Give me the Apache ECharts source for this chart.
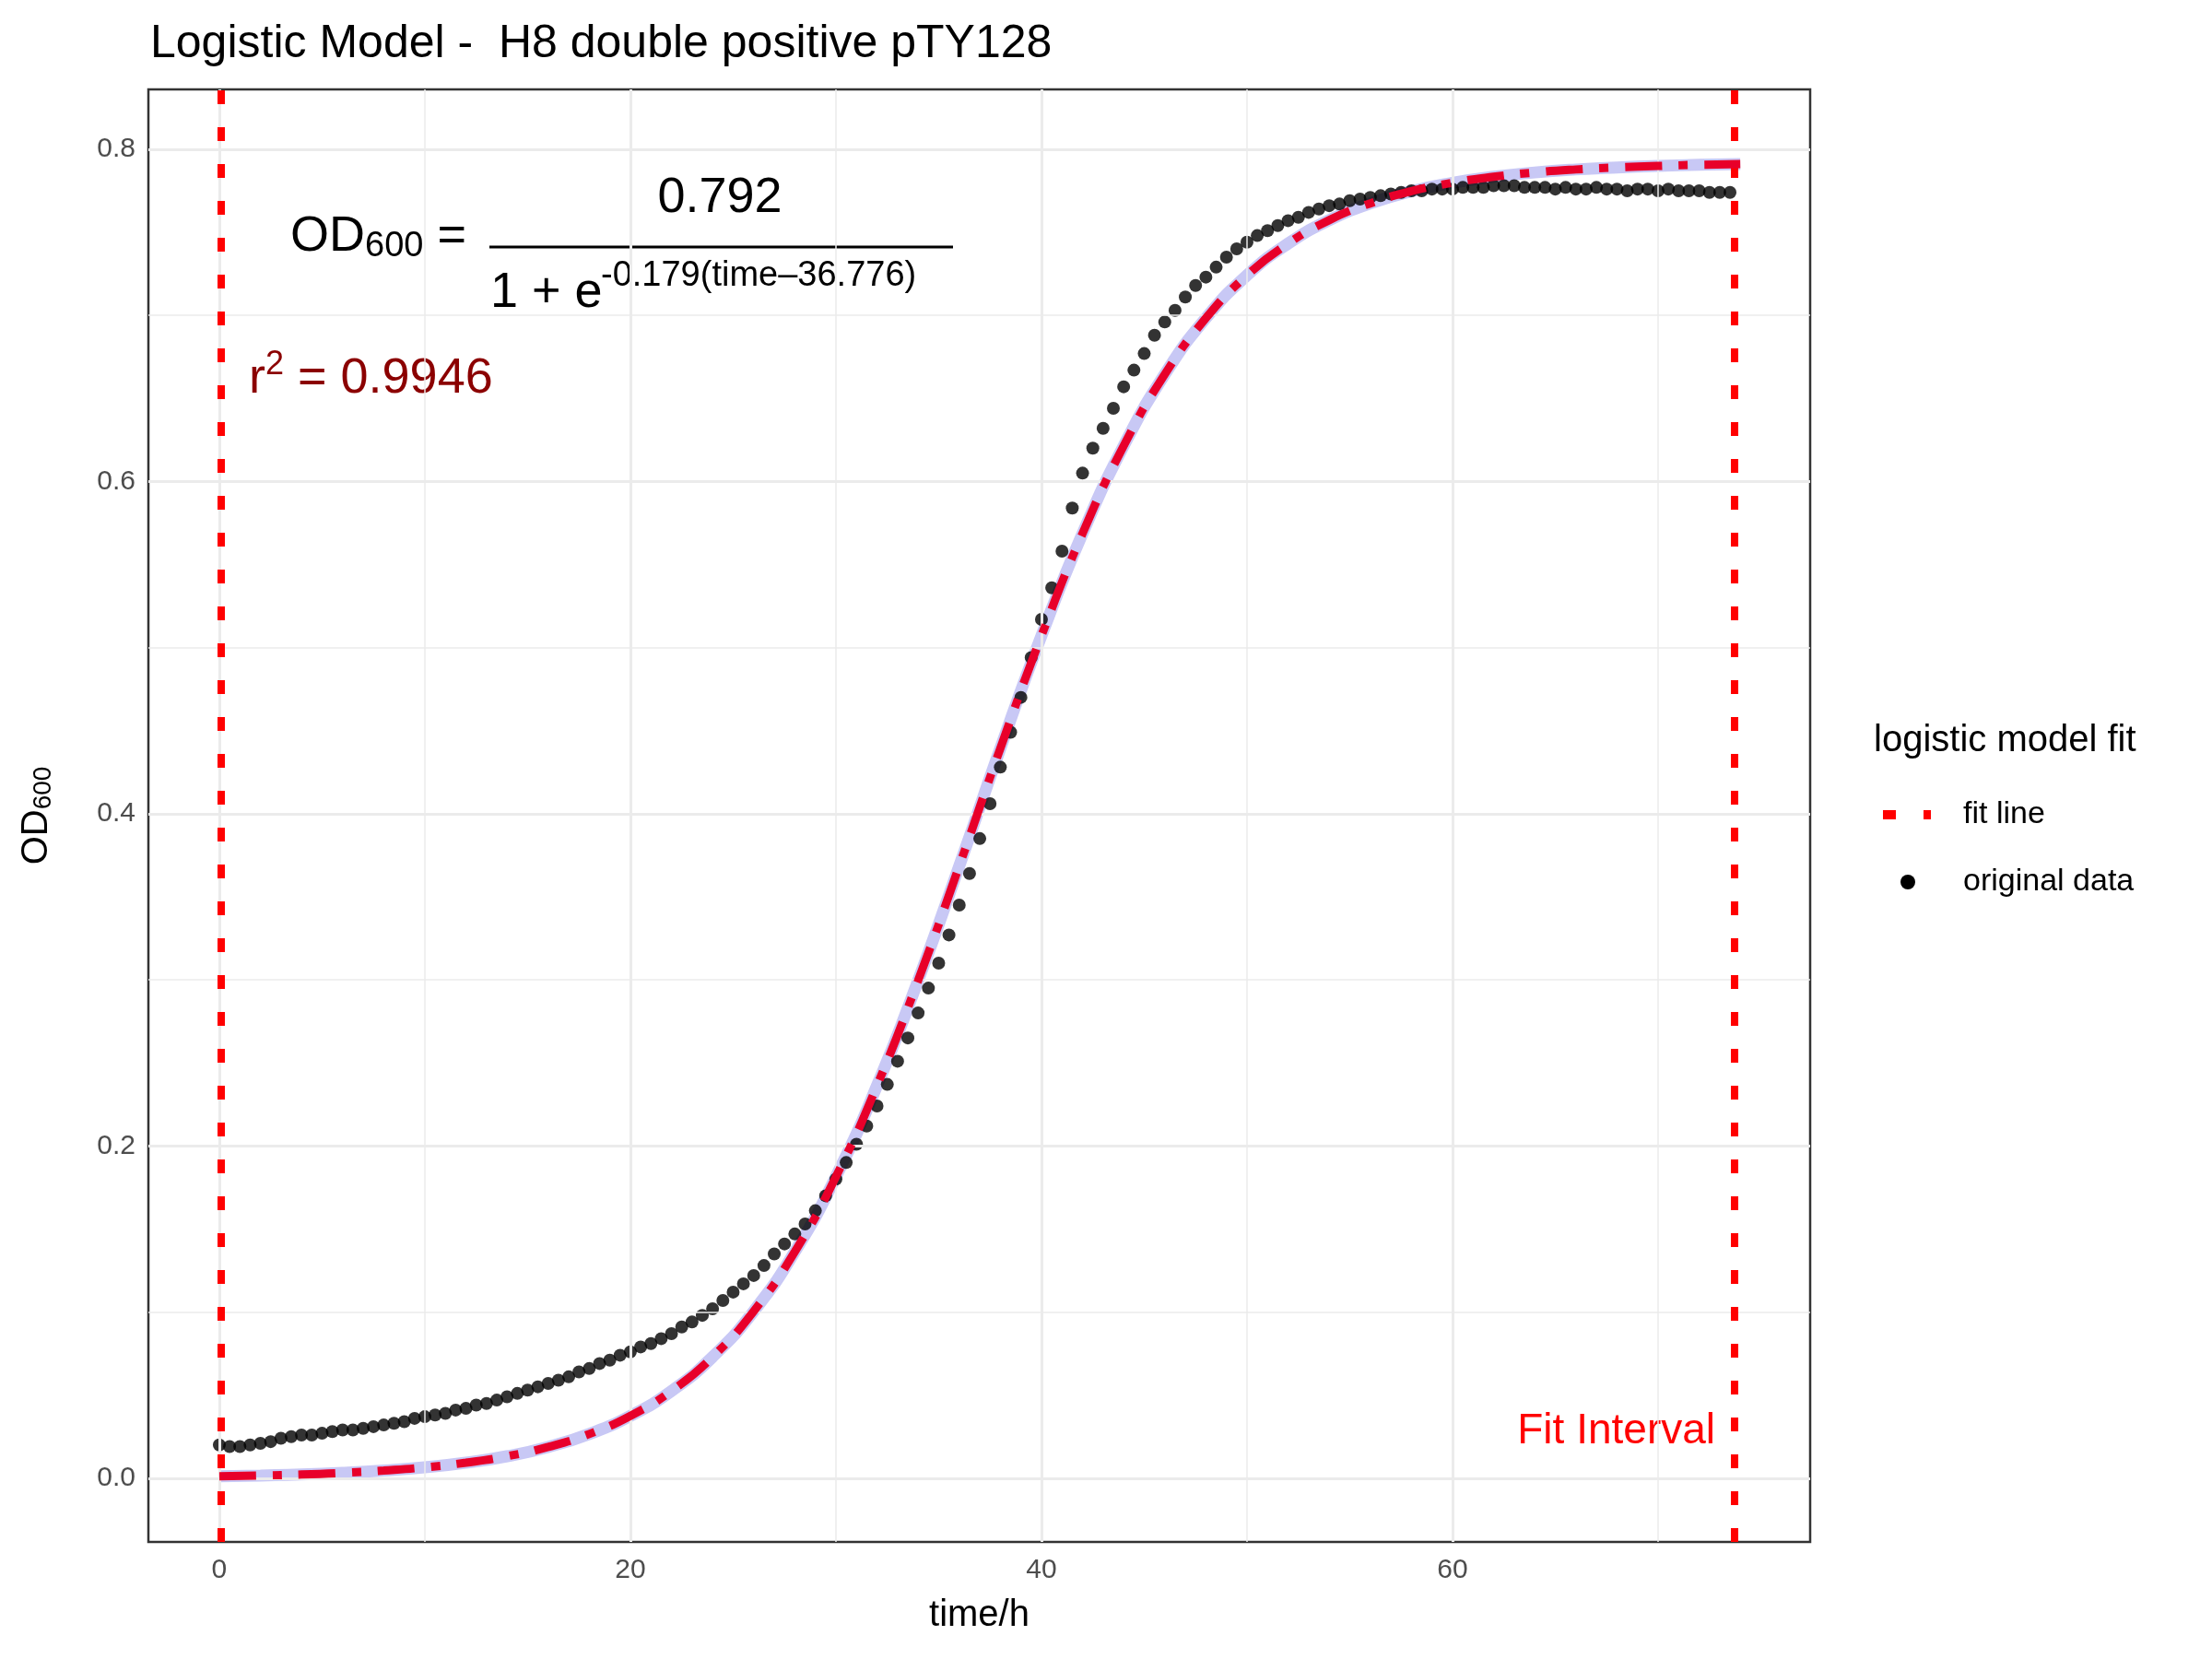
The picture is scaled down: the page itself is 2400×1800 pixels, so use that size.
<!DOCTYPE html>
<html>
<head>
<meta charset="UTF-8">
<script src="https://cdn.jsdelivr.net/npm/echarts@6/dist/echarts.min.js"></script>
<style>
  * { margin: 0; padding: 0; }
  body { background: #fff; }
  #main { width: 2400px; height: 1800px; }
</style>
</head>
<body>
<div id="main"></div>
<script>
  // observed OD600, one reading every 0.5 h from t = 0
  var odValues = [
    0.020, 0.019, 0.019, 0.020, 0.021, 0.022, 0.024, 0.025, 0.026, 0.026,
    0.027, 0.028, 0.029, 0.029, 0.030, 0.031, 0.032, 0.033, 0.034, 0.036,
    0.037, 0.038, 0.039, 0.041, 0.042, 0.044, 0.045, 0.047, 0.049, 0.051,
    0.053, 0.055, 0.057, 0.059, 0.061, 0.064, 0.066, 0.069, 0.071, 0.074,
    0.076, 0.079, 0.081, 0.084, 0.087, 0.091, 0.094, 0.098, 0.102, 0.107,
    0.112, 0.117, 0.122, 0.128, 0.135, 0.141, 0.147, 0.153, 0.161, 0.170,
    0.180, 0.190, 0.201, 0.212, 0.224, 0.237, 0.251, 0.265, 0.280, 0.295,
    0.310, 0.327, 0.345, 0.364, 0.385, 0.406, 0.428, 0.449, 0.470, 0.494,
    0.517, 0.536, 0.558, 0.584, 0.605, 0.620, 0.632, 0.644, 0.657, 0.667,
    0.677, 0.688, 0.696, 0.703, 0.711, 0.718, 0.723, 0.729, 0.735, 0.740,
    0.744, 0.748, 0.751, 0.754, 0.757, 0.759, 0.762, 0.764, 0.766, 0.767,
    0.769, 0.770, 0.771, 0.772, 0.773, 0.774, 0.775, 0.775, 0.776, 0.776,
    0.776, 0.777, 0.777, 0.777, 0.778, 0.778, 0.778, 0.777, 0.777, 0.777,
    0.776, 0.777, 0.776, 0.776, 0.777, 0.776, 0.776, 0.775, 0.776, 0.776,
    0.775, 0.776, 0.775, 0.775, 0.775, 0.774, 0.774, 0.774
  ];
  var odStep = 0.5;

  // fitted logistic curve, sampled every 2 h
  var fitTimes = [0, 2, 4, 6, 8, 10, 12, 14, 16, 18, 20, 22, 24, 26, 28, 30, 32, 34, 36, 38,
                  40, 42, 44, 46, 48, 50, 52, 54, 56, 58, 60, 62, 64, 66, 68, 70, 72, 74];
  var fitValues = [0.0011, 0.0016, 0.0022, 0.0032, 0.0046, 0.0065, 0.0093, 0.0132, 0.0188, 0.0266,
                   0.0375, 0.0525, 0.0730, 0.1005, 0.1363, 0.1815, 0.2363, 0.2996, 0.3685, 0.4393,
                   0.5071, 0.5687, 0.6214, 0.6645, 0.6983, 0.7241, 0.7432, 0.7573, 0.7674, 0.7747,
                   0.7798, 0.7834, 0.7860, 0.7878, 0.7890, 0.7899, 0.7906, 0.7910];

  var fitInterval = [0.1, 73.7];
  var xTicks = [0, 20, 40, 60];
  var yTicks = [0.0, 0.2, 0.4, 0.6, 0.8];
  var xGrid = [0, 10, 20, 30, 40, 50, 60, 70];
  var yGrid = [0.0, 0.1, 0.2, 0.3, 0.4, 0.5, 0.6, 0.7, 0.8];

  var odData = odValues.map(function (v, i) { return [i * odStep, v]; });
  var fitData = fitTimes.map(function (t, i) { return [t, fitValues[i]]; });

  var gridLines = [];
  xGrid.forEach(function (x) {
    gridLines.push({ xAxis: x, lineStyle: { width: x % 20 === 0 ? 3 : 1.5 } });
  });
  yGrid.forEach(function (y) {
    gridLines.push({ yAxis: y, lineStyle: { width: Math.round(y * 10) % 2 === 0 ? 3 : 1.5 } });
  });

  var font = 'Liberation Sans, Arial, sans-serif';
  var myChart = echarts.init(document.getElementById('main'));

  var option = {
    animation: false,
    textStyle: { fontFamily: font },
    title: {
      text: 'Logistic Model -  H8 double positive pTY128',
      left: 158, top: 18,
      textStyle: { fontSize: 50, fontWeight: 'normal', color: '#000', fontFamily: font }
    },
    grid: {
      left: 161, right: 436, top: 97, bottom: 127,
      show: true, borderColor: '#333', borderWidth: 2.5, backgroundColor: '#fff'
    },
    xAxis: {
      type: 'value', min: -3.45, max: 77.4,
      name: 'time/h', nameLocation: 'middle', nameGap: 60,
      nameTextStyle: { fontSize: 40, color: '#000' },
      splitLine: { show: false },
      axisLine: { show: false },
      axisTick: { show: true, customValues: xTicks, length: 11, lineStyle: { color: '#333', width: 3 } },
      axisLabel: { customValues: xTicks, fontSize: 30, color: '#4d4d4d', margin: 16 }
    },
    yAxis: {
      type: 'value', min: -0.0384, max: 0.836,
      name: '{a|OD}{b|600}', nameLocation: 'middle', nameGap: 100,
      nameTextStyle: { rich: { a: { fontSize: 40, color: '#000' }, b: { fontSize: 28, color: '#000', verticalAlign: 'bottom', padding: [14, 0, 0, 0] } } },
      splitLine: { show: false },
      axisLine: { show: false },
      axisTick: { show: true, customValues: yTicks, length: 11, lineStyle: { color: '#333', width: 3 } },
      axisLabel: { customValues: yTicks, fontSize: 30, color: '#4d4d4d', margin: 14,
                   formatter: function (v) { return v.toFixed(1); } }
    },
    series: [
      {
        name: 'grid', type: 'line', data: [], silent: true,
        markLine: { silent: true, symbol: 'none', label: { show: false },
                    lineStyle: { color: '#ebebeb', type: 'solid' }, data: gridLines }
      },
      {
        name: 'fit band', type: 'line', data: fitData, smooth: true, showSymbol: false,
        lineStyle: { color: '#c8c8f5', width: 13 }, z: 3
      },
      {
        name: 'original data', type: 'scatter', data: odData, symbolSize: 14,
        itemStyle: { color: '#000' }, z: 4
      },
      {
        name: 'fit line', type: 'line', data: fitData, smooth: true, showSymbol: false,
        lineStyle: { color: '#e8002a', width: 9, type: [40, 18, 10, 18] }, z: 5,
        markLine: {
          silent: true, symbol: 'none', label: { show: false },
          lineStyle: { color: '#ff0000', width: 8, type: [15, 25] },
          data: fitInterval.map(function (x) { return { xAxis: x }; })
        }
      }
    ],
    graphic: [
      { type: 'text', left: 315, top: 230, style: {
          text: '{a|OD}{b|600}{a| =}', fill: '#000',
          rich: { a: { fontSize: 54, fontFamily: font }, b: { fontSize: 38, fontFamily: font, padding: [22, 0, 0, 0] } } } },
      { type: 'line', shape: { x1: 531, y1: 268, x2: 1034, y2: 268 }, style: { stroke: '#000', lineWidth: 3 } },
      { type: 'text', x: 781, y: 215, style: { text: '0.792', fontSize: 54, fontFamily: font, fill: '#000', align: 'center', verticalAlign: 'middle' } },
      { type: 'text', x: 532, y: 318, style: { text: '1 + e', fontSize: 54, fontFamily: font, fill: '#000', verticalAlign: 'middle' } },
      { type: 'text', x: 652, y: 300, style: { text: '-0.179(time\u201336.776)', fontSize: 38, fontFamily: font, fill: '#000', verticalAlign: 'middle' } },
      { type: 'text', left: 270, top: 378, style: {
          text: '{a|r}{b|2}{a| = 0.9946}', fill: '#8b0000',
          rich: { a: { fontSize: 54, fontFamily: font, fill: '#8b0000' }, b: { fontSize: 36, fontFamily: font, fill: '#8b0000', padding: [0, 0, 30, 0] } } } },
      { type: 'text', x: 1861, y: 1553, style: { text: 'Fit Interval', fontSize: 46, fontFamily: font, fill: '#ff0000', align: 'right', verticalAlign: 'middle' } },
      // legend
      { type: 'text', x: 2033, y: 804, style: { text: 'logistic model fit', fontSize: 40, fontFamily: font, fill: '#000', verticalAlign: 'middle' } },
      { type: 'line', shape: { x1: 2043, y1: 884, x2: 2097, y2: 884 }, style: { stroke: '#ff0000', lineWidth: 10, lineDash: [14, 30, 8, 10] } },
      { type: 'text', x: 2130, y: 884, style: { text: 'fit line', fontSize: 34, fontFamily: font, fill: '#000', verticalAlign: 'middle' } },
      { type: 'circle', shape: { cx: 2070, cy: 957, r: 8 }, style: { fill: '#000' } },
      { type: 'text', x: 2130, y: 957, style: { text: 'original data', fontSize: 34, fontFamily: font, fill: '#000', verticalAlign: 'middle' } }
    ]
  };

  myChart.setOption(option);
</script>
</body>
</html>
